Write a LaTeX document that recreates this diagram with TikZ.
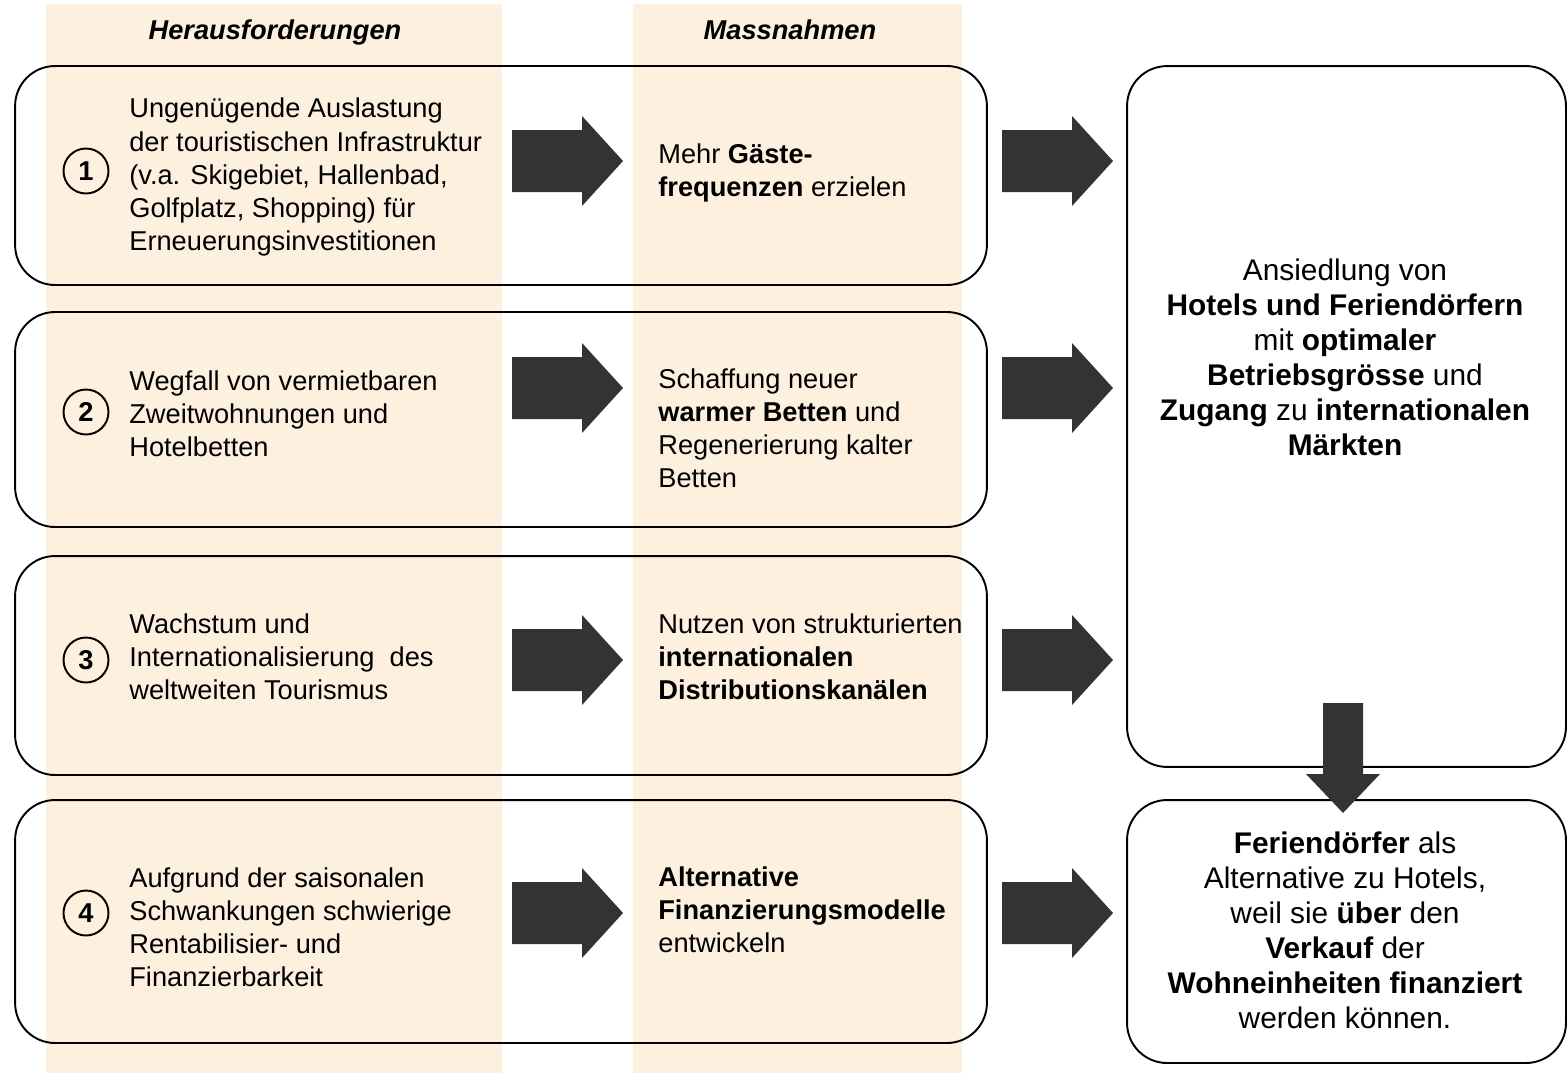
\documentclass[tikz,border=0pt]{standalone}
\usepackage{fontspec}
\setmainfont{Liberation Sans}
\definecolor{peach}{HTML}{FEF0DF}
\definecolor{arrgray}{HTML}{333333}

\begin{document}
\begin{tikzpicture}[
  x=0.02cm, y=-0.02cm,
  col/.style={fill=peach, draw=none},
  row/.style={draw=black, line width=1.1pt, rounded corners=0.8cm,
              inner sep=0pt},
  head/.style={anchor=base, inner sep=0pt,
               font=\fontsize{15.5}{18}\selectfont\bfseries\itshape},
  txt/.style={anchor=west, align=left, inner sep=0pt,
              font=\fontsize{15.5}{18.8}\selectfont},
  res/.style={align=center, inner sep=0pt,
              font=\fontsize{17}{19.9}\selectfont},
  num/.style={circle, draw, line width=1.1pt, minimum size=0.9cm,
              inner sep=0pt, font=\fontsize{15.5}{17}\selectfont\bfseries},
  rarrow/.pic={\fill[arrgray] (0,-31) -- (70,-31) -- (70,-45) -- (111,0)
                -- (70,45) -- (70,31) -- (0,31) -- cycle;},
  darrow/.pic={\fill[arrgray] (-20,0) -- (20,0) -- (20,71) -- (37,71)
                -- (0,110) -- (-37,71) -- (-20,71) -- cycle;},
]
  \useasboundingbox (0,0) rectangle (1568,1073);
  % columns
  \fill[col] (46,4) rectangle (502,1073);
  \fill[col] (633,4) rectangle (962,1073);
  \node[head] (h1) at (275,39) {Herausforderungen};
  \node[head] (h2) at (790,39) {Massnahmen};

  % rows
  \node[row, minimum width=19.44cm, minimum height=4.38cm] (r1) at (501,175.5) {};
  \node[row, minimum width=19.44cm, minimum height=4.30cm] (r2) at (501,419.5) {};
  \node[row, minimum width=19.44cm, minimum height=4.38cm] (r3) at (501,665.5) {};
  \node[row, minimum width=19.44cm, minimum height=4.86cm] (r4) at (501,921.5) {};
  \node[row, minimum width=8.78cm, minimum height=14.02cm] (goal) at (1346.5,416.5) {};
  \node[row, minimum width=8.78cm, minimum height=5.26cm] (fin) at (1346.5,931.5) {};

  \node[num] (n1) at (86,171) {1};
  \node[num] (n2) at (86,412) {2};
  \node[num] (n3) at (86,660) {3};
  \node[num] (n4) at (86,913) {4};

  \node[txt] (c1) at (129,177) {Ungenügende Auslastung\\ der touristischen Infrastruktur\\
    (v.a. Skigebiet, Hallenbad,\\ Golfplatz, Shopping) für\\ Erneuerungsinvestitionen};
  \node[txt] (c2) at (129,414) {Wegfall von vermietbaren\\ Zweitwohnungen und\\ Hotelbetten};
  \node[txt] (c3) at (129,657) {Wachstum und\\ Internationalisierung\ \ des\\ weltweiten Tourismus};
  \node[txt] (c4) at (129,927) {Aufgrund der saisonalen\\ Schwankungen schwierige\\
    Rentabilisier- und\\ Finanzierbarkeit};

  \node[txt] (m1) at (658,173) {Mehr \textbf{Gäste-}\\ \textbf{frequenzen} erzielen};
  \node[txt] (m2) at (658,428.5) {Schaffung neuer\\ \textbf{warmer Betten} und\\
    Regenerierung kalter\\ Betten};
  \node[txt] (m3) at (658,657) {Nutzen von strukturierten\\ \textbf{internationalen}\\
    \textbf{Distributionskanälen}};
  \node[txt] (m4) at (658,910) {\textbf{Alternative}\\ \textbf{Finanzierungsmodelle}\\ entwickeln};

  \node[res] (g) at (1345,357) {Ansiedlung von\\ \textbf{Hotels und Feriendörfern}\\
    mit \textbf{optimaler}\\ \textbf{Betriebsgrösse} und\\
    \textbf{Zugang} zu \textbf{internationalen}\\ \textbf{Märkten}};
  \node[res] (f) at (1345,930) {\textbf{Feriendörfer} als\\ Alternative zu Hotels,\\
    weil sie \textbf{über} den\\ \textbf{Verkauf} der\\
    \textbf{Wohneinheiten finanziert}\\ werden können.};

  % arrows
  \coordinate (a1) at (512,161);
  \coordinate (a2) at (512,388);
  \coordinate (a3) at (512,660);
  \coordinate (a4) at (512,913);
  \coordinate (b1) at (1002,161);
  \coordinate (b2) at (1002,388);
  \coordinate (b3) at (1002,660);
  \coordinate (b4) at (1002,913);
  \coordinate (d) at (1343,703);
  \foreach \p in {a1,a2,a3,a4,b1,b2,b3,b4}
    \pic at (\p) {rarrow};
  \pic at (d) {darrow};
\end{tikzpicture}
\end{document}
